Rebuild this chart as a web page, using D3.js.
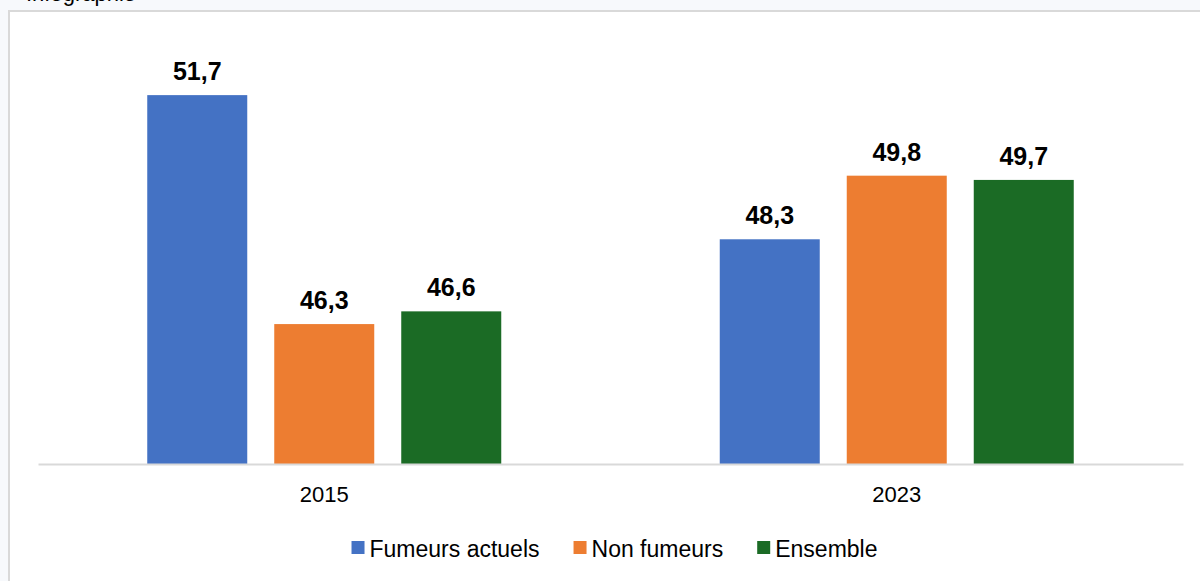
<!DOCTYPE html>
<html>
<head>
<meta charset="utf-8">
<script src="https://cdn.jsdelivr.net/npm/d3@7"></script>
<style>
  html, body { margin: 0; padding: 0; background: #f7f9fc; }
  svg { display: block; }
</style>
</head>
<body>
<svg width="1200" height="581"></svg>
<script>
const years = ["2015", "2023"];
const seriesNames = ["Fumeurs actuels", "Non fumeurs", "Ensemble"];
const fumeursActuels = [51.7, 48.3];
const nonFumeurs = [46.3, 49.8];
const ensemble = [46.6, 49.7];
const colors = ["#4472c4", "#ed7d31", "#1b6b25"];

const data = years.map((y, i) => ({
  year: y,
  values: [fumeursActuels[i], nonFumeurs[i], ensemble[i]]
}));

const w = 1200;
const h = 581;
const left = 38, right = 1183, baseY = 464;
const svg = d3.select('svg');
const fontFamily = "'Liberation Sans', Arial, sans-serif";

// page title, mostly cut off at the top (as in the source)
svg.append('text')
  .attr('x', 26)
  .attr('y', 1)
  .style('font-family', fontFamily)
  .style('font-size', '22px')
  .attr('fill', '#000')
  .text("Infographie");

// chart frame
svg.append('rect')
  .attr('x', 9)
  .attr('y', 11)
  .attr('width', w)
  .attr('height', h)
  .attr('fill', '#ffffff')
  .attr('stroke', '#d9d9d9')
  .attr('stroke-width', 2);

const xScale = d3.scaleBand()
  .domain(years)
  .range([left, right]);

const inner = d3.scaleBand()
  .domain(seriesNames)
  .range([xScale.bandwidth() / 2 - 177, xScale.bandwidth() / 2 + 177])
  .paddingInner(0.2126);

const yScale = d3.scaleLinear()
  .domain([43, 53])
  .range([baseY, 40]);

const groups = svg.selectAll('g.year')
  .data(data)
  .enter()
  .append('g')
  .attr('class', 'year')
  .attr('transform', d => 'translate(' + xScale(d.year) + ',0)');

const bars = groups.selectAll('g.bar')
  .data(d => d.values.map((v, i) => ({ name: seriesNames[i], value: v, color: colors[i] })))
  .enter()
  .append('g')
  .attr('class', 'bar');

bars.append('rect')
  .attr('x', d => inner(d.name))
  .attr('y', d => yScale(d.value))
  .attr('width', inner.bandwidth())
  .attr('height', d => baseY - yScale(d.value))
  .attr('fill', d => d.color);

bars.append('text')
  .attr('x', d => inner(d.name) + inner.bandwidth() / 2)
  .attr('y', d => yScale(d.value) - 15)
  .attr('text-anchor', 'middle')
  .style('font-family', fontFamily)
  .style('font-size', '25px')
  .style('font-weight', 'bold')
  .attr('fill', '#000')
  .text(d => d3.format('.1f')(d.value).replace('.', ','));

// x axis
const xAxis = d3.axisBottom(xScale).tickSize(0).tickPadding(22);
const axisG = svg.append('g')
  .attr('transform', 'translate(0,' + baseY + ')')
  .call(xAxis);
axisG.select('.domain')
  .attr('stroke', '#d9d9d9')
  .attr('stroke-width', 2);
axisG.selectAll('text')
  .style('font-family', fontFamily)
  .style('font-size', '22px')
  .attr('fill', '#000');

// legend
const legend = svg.append('g').attr('id', 'legend');
let lx = 0;
seriesNames.forEach((name, i) => {
  const item = legend.append('g').attr('transform', 'translate(' + lx + ',0)');
  item.append('rect')
    .attr('x', 0)
    .attr('y', -16)
    .attr('width', 13)
    .attr('height', 13)
    .attr('fill', colors[i]);
  const t = item.append('text')
    .attr('x', 18)
    .attr('y', 0)
    .style('font-family', fontFamily)
    .style('font-size', '23px')
    .attr('fill', '#000')
    .text(name);
  lx += 18 + t.node().getComputedTextLength() + 34;
});
const legendW = lx - 34;
legend.attr('transform', 'translate(' + (614.5 - legendW / 2) + ',557)');
</script>
</body>
</html>
